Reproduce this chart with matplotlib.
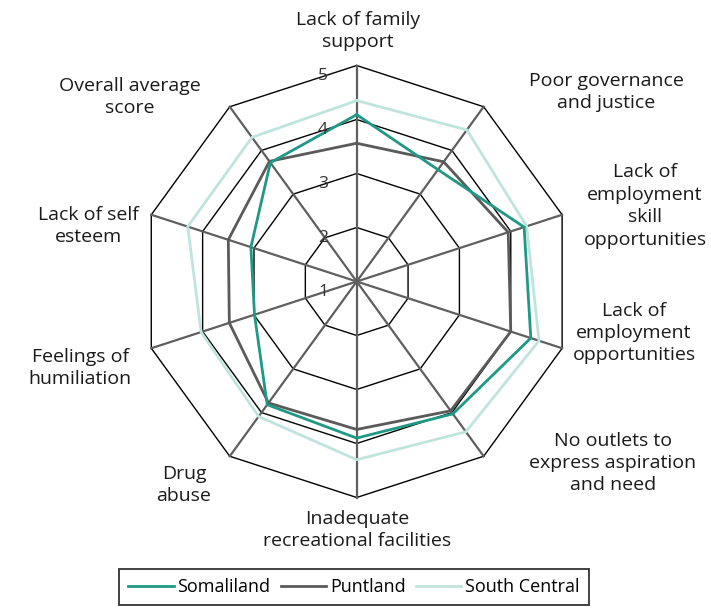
import numpy as np
import matplotlib
matplotlib.use("Agg")
import matplotlib.pyplot as plt
from matplotlib.lines import Line2D

categories = [
    "Lack of family\nsupport",
    "Poor governance\nand justice",
    "Lack of\nemployment\nskill\nopportunities",
    "Lack of\nemployment\nopportunities",
    "No outlets to\nexpress aspiration\nand need",
    "Inadequate\nrecreational facilities",
    "Drug\nabuse",
    "Feelings of\nhumiliation",
    "Lack of self\nesteem",
    "Overall average\nscore",
]
somaliland = [4.09, 3.56, 4.26, 4.39, 4.03, 3.90, 3.82, 2.99, 3.06, 3.72]
puntland = [3.56, 3.74, 3.95, 4.00, 3.96, 3.74, 3.78, 3.48, 3.50, 3.75]
south_central = [4.35, 4.47, 4.31, 4.55, 4.44, 4.30, 4.09, 4.03, 4.29, 4.30]
ticks = [1, 2, 3, 4, 5]

plt.rcParams['font.family'] = ['Open Sans', 'DejaVu Sans']

W, H = 711, 616
fig = plt.figure(figsize=(W / 100, H / 100), dpi=100)
cx, cy, R = 356.7, 281.5, 216.0
ax = fig.add_axes([(cx - R) / W, (H - cy - R) / H, 2 * R / W, 2 * R / H], projection='polar')
ax.set_theta_offset(np.pi / 2)
ax.set_theta_direction(-1)
ax.set_ylim(1, 5)
ax.grid(False)
ax.spines['polar'].set_visible(False)
ax.set_xticks([])
ax.set_yticks([])
ax.set_facecolor('none')

n = len(categories)
theta = np.arange(n) * 2 * np.pi / n
theta_c = np.append(theta, theta[0])

# rings
for t in ticks[1:]:
    ax.plot(theta_c, [t] * (n + 1), color='black', lw=1.0, zorder=1, clip_on=False)
# spokes
for th in theta:
    ax.plot([th, th], [1, 5], color='#5f5f5f', lw=1.6, zorder=2, clip_on=False)

series = [
    ("South Central", south_central, '#bfe4de'),
    ("Puntland", puntland, '#5a5a5a'),
    ("Somaliland", somaliland, '#1f9886'),
]
for name, vals, col in series:
    ax.plot(theta_c, list(vals) + [vals[0]], color=col, lw=2.0, zorder=3,
            solid_joinstyle='miter', clip_on=False)

# tick labels along the top axis
for t in ticks:
    ypix = cy - (t - 1) * R / 4 + 11
    fig.text(323 / W, 1 - ypix / H, str(t), ha='center', va='center',
             fontsize=12.5, color='#333333')

# category labels
label_pos = [
    (358, 31), (606, 92), (645, 206), (634, 333), (613, 463),
    (357, 530), (184, 485), (80, 368), (88, 226), (130, 97),
]
for lab, (x, y) in zip(categories, label_pos):
    fig.text(x / W, 1 - y / H, lab, ha='center', va='center', fontsize=14,
             color='#1a1a1a', linespacing=1.32)

handles = [
    Line2D([], [], color='#1f9886', lw=2.0),
    Line2D([], [], color='#5a5a5a', lw=2.0),
    Line2D([], [], color='#bfe4de', lw=2.0),
]
leg = fig.legend(handles, ["Somaliland", "Puntland", "South Central"], ncol=3,
                 loc='center', bbox_to_anchor=(354 / W, 1 - 587 / H),
                 frameon=True, fancybox=False, edgecolor='black', fontsize=13,
                 handlelength=2.5, handletextpad=0.2, columnspacing=0.6,
                 borderpad=0.5)
leg.get_frame().set_linewidth(1.3)

fig.savefig("out.png", dpi=100)
